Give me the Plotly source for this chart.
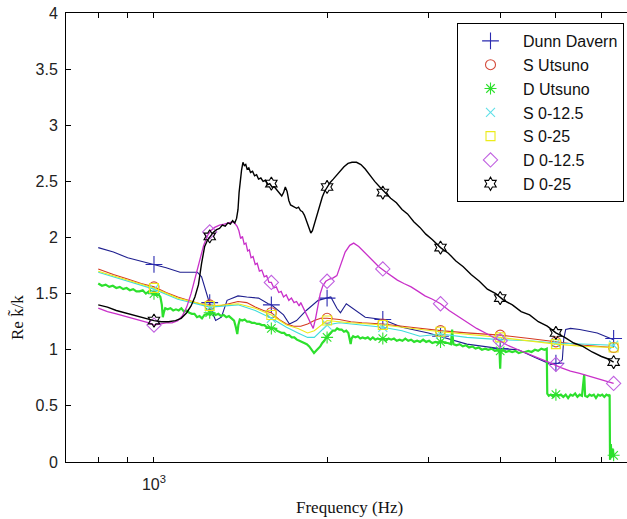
import plotly.graph_objects as go

# ---------------- data ----------------
band_freq = [1000, 1250, 1600, 2000, 2500, 3150, 4000, 5000, 6300]

dd_freq = [800, 850, 900, 950, 1000, 1050, 1110, 1150, 1190, 1210, 1235, 1260, 1280, 1310, 1340,
           1400, 1450, 1520, 1580, 1600, 1680, 1720, 1770, 1840, 1930, 2000, 2030, 2080, 2110,
           2160, 2240, 2330, 2500, 2560, 2700, 3000, 3150, 3500, 4000, 4300, 4600, 4900, 5050,
           5130, 5160, 5200, 5300, 5500, 5900, 6300]
dd_val = [1.91, 1.87, 1.82, 1.79, 1.76, 1.73, 1.69, 1.69, 1.69, 1.65, 1.50, 1.35, 1.26, 1.29, 1.44,
          1.48, 1.47, 1.46, 1.41, 1.40, 1.31, 1.23, 1.26, 1.35, 1.44, 1.46, 1.47, 1.37, 1.33,
          1.41, 1.35, 1.29, 1.27, 1.25, 1.20, 1.15, 1.12, 1.05, 1.01, 1.00, 0.93, 0.87, 0.88,
          0.91, 1.10, 1.18, 1.19, 1.18, 1.15, 1.09]
dd_mark = [1.76, 1.42, 1.40, 1.46, 1.27, 1.12, 1.01, 0.88, 1.10]

su_freq = [800, 850, 900, 950, 1000, 1050, 1100, 1150, 1200, 1250, 1300, 1350, 1400, 1450, 1500,
           1550, 1600, 1650, 1700, 1750, 1800, 1850, 1900, 1950, 2000, 2100, 2200, 2300, 2500,
           2800, 3150, 3500, 4000, 4500, 5000, 5600, 6300]
su_val = [1.72, 1.67, 1.63, 1.59, 1.56, 1.51, 1.47, 1.44, 1.41, 1.40, 1.39, 1.41, 1.43, 1.42, 1.38,
          1.35, 1.33, 1.27, 1.23, 1.21, 1.21, 1.23, 1.26, 1.28, 1.28, 1.27, 1.25, 1.24, 1.23,
          1.20, 1.17, 1.15, 1.13, 1.10, 1.07, 1.04, 1.02]
su_mark = [1.56, 1.40, 1.33, 1.28, 1.23, 1.17, 1.13, 1.07, 1.02]

du_freq = (
    [800, 812, 824, 836, 848, 860, 872, 884, 896, 908, 920, 932, 944, 956, 968, 980, 992, 1004, 1016]
    + [1026, 1032, 1036, 1040, 1046]
    + [1056, 1068, 1080, 1092, 1104, 1116, 1128, 1140, 1152, 1164, 1176, 1188, 1200, 1212, 1224]
    + [1238, 1252, 1266, 1280, 1294, 1308, 1322, 1336, 1350, 1364, 1378]
    + [1388, 1396, 1402, 1410]
    + [1424, 1438, 1452, 1466, 1480, 1495, 1510, 1525, 1540, 1556, 1572, 1588, 1604, 1620, 1636,
       1652, 1668, 1684, 1700]
    + [1718, 1736, 1754, 1772, 1790, 1808, 1826, 1844, 1862, 1880, 1898]
    + [1914, 1930, 1946, 1962, 1978, 1994, 2010, 2028, 2046, 2064, 2082, 2100, 2120, 2140, 2160, 2178]
    + [2190, 2198, 2206, 2220]
    + [2240, 2262, 2284, 2306, 2330, 2354, 2378, 2402, 2426, 2450, 2476, 2502, 2530, 2558, 2586,
       2614, 2644, 2674, 2704, 2736, 2768, 2800, 2834, 2868, 2902, 2938, 2974, 3010, 3048, 3086,
       3124, 3164, 3204, 3244, 3284]
    + [3300, 3316]
    + [3358, 3400, 3444, 3488, 3532, 3578, 3624, 3670, 3718, 3766, 3814, 3864, 3914, 3964, 3990]
    + [4000]
    + [4010, 4040, 4092, 4144, 4198, 4252, 4308, 4364, 4420, 4478, 4536, 4596, 4656, 4716, 4776, 4820]
    + [4830, 4860, 4900, 4950, 5000, 5050, 5100, 5150, 5200, 5250, 5300, 5350, 5400, 5450, 5500,
       5550, 5600, 5620, 5670, 5720, 5770, 5820, 5870, 5920, 5970, 6020, 6070, 6120, 6170, 6200]
    + [6210, 6230, 6250, 6270, 6300]
)
du_val = (
    [1.59, 1.57, 1.58, 1.56, 1.57, 1.55, 1.56, 1.54, 1.55, 1.53, 1.54, 1.52, 1.52, 1.53, 1.50, 1.52,
     1.50, 1.49, 1.50]
    + [1.47, 1.40, 1.29, 1.33, 1.37]
    + [1.36, 1.37, 1.35, 1.36, 1.35, 1.37, 1.34, 1.35, 1.33, 1.32, 1.32, 1.29, 1.30, 1.28, 1.31]
    + [1.32, 1.31, 1.33, 1.31, 1.32, 1.30, 1.31, 1.29, 1.30, 1.28, 1.26]
    + [1.20, 1.14, 1.22, 1.27]
    + [1.26, 1.27, 1.25, 1.25, 1.24, 1.24, 1.23, 1.23, 1.22, 1.22, 1.20, 1.20, 1.19, 1.19, 1.17,
       1.16, 1.15, 1.15, 1.13]
    + [1.13, 1.11, 1.11, 1.09, 1.08, 1.07, 1.06, 1.05, 1.03, 1.00, 0.97]
    + [0.99, 1.01, 1.03, 1.06, 1.08, 1.11, 1.13, 1.15, 1.17, 1.17, 1.19, 1.18, 1.18, 1.16, 1.17, 1.15]
    + [1.10, 1.05, 1.10, 1.12]
    + [1.11, 1.12, 1.10, 1.11, 1.10, 1.11, 1.09, 1.11, 1.09, 1.10, 1.09, 1.10, 1.08, 1.10, 1.09,
       1.10, 1.08, 1.09, 1.08, 1.10, 1.08, 1.09, 1.07, 1.08, 1.07, 1.09, 1.07, 1.08, 1.06, 1.07,
       1.06, 1.08, 1.06, 1.06, 1.05]
    + [1.18, 1.05]
    + [1.04, 1.05, 1.03, 1.04, 1.02, 1.03, 1.01, 1.02, 1.00, 1.01, 1.00, 1.01, 0.99, 1.00, 0.98]
    + [0.83]
    + [0.98, 1.00, 0.98, 0.99, 0.98, 0.99, 0.97, 0.98, 0.98, 0.99, 0.98, 1.00, 0.99, 1.01, 1.00, 1.01]
    + [0.61, 0.59, 0.60, 0.58, 0.61, 0.59, 0.60, 0.58, 0.60, 0.57, 0.60, 0.59, 0.61, 0.58, 0.60,
       0.59, 0.78, 0.59, 0.58, 0.60, 0.59, 0.60, 0.57, 0.60, 0.59, 0.60, 0.58, 0.60, 0.59, 0.60]
    + [0.02, 0.16, 0.04, 0.12, 0.06]
)
du_mark = [1.50, 1.33, 1.19, 1.11, 1.10, 1.07, 0.99, 0.60, 0.06]

s125_freq = [800, 900, 1000, 1100, 1250, 1400, 1500, 1600, 1700, 1780, 1850, 1900, 1950, 2000,
             2100, 2300, 2500, 2700, 2900, 3150, 3500, 4000, 4500, 5000, 5600, 6300]
s125_val = [1.69, 1.61, 1.54, 1.45, 1.38, 1.40, 1.35, 1.28, 1.20, 1.15, 1.11, 1.11, 1.17, 1.22,
            1.24, 1.22, 1.20, 1.17, 1.12, 1.14, 1.11, 1.09, 1.08, 1.06, 1.05, 1.04]
s125_mark = [1.54, 1.38, 1.28, 1.22, 1.20, 1.14, 1.09, 1.06, 1.04]

s25_freq = [800, 900, 1000, 1100, 1250, 1400, 1500, 1600, 1700, 1780, 1850, 1900, 1950, 2000,
            2100, 2200, 2500, 3150, 4000, 5000, 5600, 6300]
s25_val = [1.70, 1.62, 1.55, 1.46, 1.39, 1.41, 1.37, 1.31, 1.22, 1.19, 1.15, 1.17, 1.22, 1.26,
           1.25, 1.24, 1.22, 1.16, 1.11, 1.05, 1.03, 1.02]
s25_mark = [1.55, 1.39, 1.31, 1.26, 1.22, 1.16, 1.11, 1.05, 1.02]

d125_freq = [800, 830, 860, 890, 920, 950, 980, 1000, 1025, 1050, 1075, 1100, 1120, 1140, 1160,
             1180, 1200, 1220, 1240, 1255, 1275, 1300, 1325, 1350, 1370, 1385, 1395, 1405, 1415,
             1425, 1435, 1445, 1455, 1465, 1475, 1487, 1500, 1512, 1525, 1540, 1555, 1570, 1585,
             1600, 1616, 1632, 1648, 1664, 1680, 1698, 1716, 1734, 1752, 1770, 1788, 1800, 1815,
             1830, 1850, 1870, 1892, 1910, 1928, 1946, 1966, 1990, 2020, 2050, 2080, 2110, 2150,
             2190, 2225, 2270, 2310, 2360, 2410, 2460, 2520, 2580, 2650, 2720, 2800, 2880, 2960,
             3050, 3150, 3260, 3380, 3500, 3640, 3800, 3960, 4120, 4300, 4500, 4700, 4900, 5100,
             5300, 5500, 5750, 6000, 6300]
d125_val = [1.37, 1.34, 1.32, 1.30, 1.28, 1.26, 1.24, 1.22, 1.23, 1.24, 1.24, 1.26, 1.30, 1.38, 1.50,
            1.65, 1.80, 1.93, 2.02, 2.06, 2.09, 2.11, 2.12, 2.13, 2.14, 2.12, 2.10, 2.06, 1.99,
            2.01, 1.94, 1.95, 1.88, 1.89, 1.82, 1.83, 1.76, 1.77, 1.70, 1.71, 1.65, 1.66, 1.60,
            1.60, 1.55, 1.56, 1.51, 1.52, 1.47, 1.49, 1.44, 1.46, 1.42, 1.43, 1.39, 1.42, 1.38,
            1.34, 1.30, 1.24, 1.19, 1.28, 1.40, 1.50, 1.57, 1.61, 1.63, 1.64, 1.66, 1.76, 1.87,
            1.93, 1.95, 1.92, 1.88, 1.83, 1.78, 1.74, 1.70, 1.66, 1.62, 1.59, 1.56, 1.52, 1.48,
            1.45, 1.41, 1.35, 1.30, 1.25, 1.19, 1.14, 1.09, 1.04, 1.00, 0.96, 0.92, 0.88, 0.84,
            0.81, 0.79, 0.76, 0.73, 0.70]
d125_mark = [1.22, 2.05, 1.60, 1.61, 1.72, 1.41, 1.08, 0.87, 0.70]

d25_freq = [800, 830, 860, 890, 920, 950, 980, 1000, 1030, 1060, 1090, 1115, 1140, 1160, 1178,
            1195, 1210, 1225, 1240, 1255, 1270, 1285, 1300, 1315, 1330, 1345, 1358, 1370, 1382,
            1392, 1400, 1406, 1412, 1420, 1428, 1436, 1444, 1452, 1462, 1472, 1484, 1496, 1508,
            1520, 1534, 1548, 1562, 1576, 1590, 1604, 1620, 1636, 1652, 1668, 1680, 1692, 1704,
            1716, 1728, 1742, 1756, 1770, 1784, 1798, 1812, 1826, 1838, 1850, 1862, 1874, 1886,
            1898, 1912, 1928, 1944, 1962, 1980, 2000, 2025, 2050, 2080, 2110, 2140, 2175, 2210,
            2250, 2290, 2330, 2370, 2420, 2470, 2520, 2580, 2640, 2700, 2760, 2830, 2900, 2970,
            3050, 3150, 3250, 3350, 3450, 3560, 3680, 3800, 3930, 4060, 4200, 4350, 4500, 4660,
            4830, 5000, 5180, 5370, 5570, 5780, 6000, 6150, 6300]
d25_val = [1.40, 1.38, 1.35, 1.33, 1.31, 1.29, 1.27, 1.26, 1.25, 1.25, 1.26, 1.28, 1.33, 1.39, 1.47,
           1.58, 1.77, 1.92, 1.98, 2.02, 2.05, 2.07, 2.08, 2.11, 2.10, 2.13, 2.12, 2.15, 2.13,
           2.17, 2.25, 2.40, 2.52, 2.60, 2.67, 2.64, 2.65, 2.61, 2.62, 2.58, 2.59, 2.55, 2.56,
           2.52, 2.53, 2.50, 2.51, 2.47, 2.48, 2.45, 2.45, 2.42, 2.40, 2.37, 2.40, 2.45, 2.41,
           2.33, 2.29, 2.28, 2.27, 2.26, 2.27, 2.24, 2.23, 2.20, 2.16, 2.12, 2.08, 2.04, 2.06,
           2.11, 2.17, 2.24, 2.30, 2.36, 2.41, 2.45, 2.49, 2.52, 2.56, 2.60, 2.63, 2.66, 2.67,
           2.67, 2.65, 2.61, 2.56, 2.50, 2.45, 2.40, 2.35, 2.31, 2.25, 2.21, 2.14, 2.09, 2.03,
           1.98, 1.91, 1.86, 1.79, 1.74, 1.67, 1.61, 1.54, 1.50, 1.44, 1.40, 1.34, 1.31, 1.25,
           1.21, 1.15, 1.11, 1.06, 1.03, 0.98, 0.94, 0.92, 0.89]
d25_mark = [1.26, 2.01, 2.48, 2.45, 2.40, 1.91, 1.46, 1.15, 0.89]

y_ticks = [0, 0.5, 1, 1.5, 2, 2.5, 3, 3.5, 4]
y_tick_text = ["0", "0.5", "1", "1.5", "2", "2.5", "3", "3.5", "4"]
x_ticks = [800, 900, 1000, 2000, 3000, 4000, 5000, 6000]
x_tick_text = ["", "", "10<sup>3</sup>", "", "", "", "", ""]

# name, x, y, marker values, line colour, marker colour, symbol, marker size, line width
series = [
    ("Dunn Davern", dd_freq, dd_val, dd_mark, "#1f1f8f", "#2a2ab0", "cross-thin-open", 12, 1.1),
    ("S Utsuno", su_freq, su_val, su_mark, "#d43a22", "#d44a3a", "circle-open", 10, 1.1),
    ("D Utsuno", du_freq, du_val, du_mark, "#2de02d", "#2de02d", "asterisk-open", 10, 2.2),
    ("S 0-12.5", s125_freq, s125_val, s125_mark, "#3fdcdc", "#5fe0e8", "x-thin-open", 9, 1.1),
    ("S 0-25", s25_freq, s25_val, s25_mark, "#ecec1a", "#ecec1a", "square-open", 9, 1.1),
    ("D 0-12.5", d125_freq, d125_val, d125_mark, "#c930c9", "#c060e0", "diamond-open", 11, 1.3),
    ("D 0-25", d25_freq, d25_val, d25_mark, "#000000", "#000000", "hexagram-open", 10, 1.4),
]

# ---------------- figure ----------------
W, H = 627, 519
ML, MR, MT, MB = 66, 0, 13, 57
PW, PH = W - ML - MR, H - MT - MB

fig = go.Figure()
for name, fx, fy, mk, lc, mc, sym, size, lw in series:
    fig.add_trace(go.Scatter(x=fx, y=fy, mode="lines", line=dict(color=lc, width=lw),
                             showlegend=False, legendgroup=name, hoverinfo="skip"))
    fig.add_trace(go.Scatter(x=band_freq, y=mk, mode="markers", name=name, legendgroup=name,
                             marker=dict(symbol=sym, size=size, color=mc,
                                         line=dict(color=mc, width=1.1))))


def px_x(p):
    return (p - ML) / PW


def px_y(p):
    return (H - MB - p) / PH


sans = "Liberation Sans, Arial, sans-serif"
serif = "Liberation Serif, Times New Roman, serif"

fig.update_layout(
    width=W, height=H,
    margin=dict(l=ML, r=MR, t=MT, b=MB, pad=0),
    paper_bgcolor="white", plot_bgcolor="white",
    font=dict(family=sans, size=16, color="#222222"),
    xaxis=dict(type="log", range=[2.8470, 3.8226], showgrid=False, zeroline=False,
               showline=True, linecolor="black", linewidth=1, mirror="ticks",
               ticks="inside", ticklen=5, tickcolor="black",
               tickmode="array", tickvals=x_ticks, ticktext=x_tick_text,
               tickfont=dict(family=sans, size=16, color="#222222"),
               ticklabelstandoff=8),
    yaxis=dict(range=[0, 4], showgrid=False, zeroline=False,
               showline=True, linecolor="black", linewidth=1, mirror=False,
               ticks="inside", ticklen=5, tickcolor="black",
               tickmode="array", tickvals=y_ticks, ticktext=y_tick_text,
               tickfont=dict(family=sans, size=16, color="#222222"),
               ticklabelstandoff=4),
    legend=dict(x=px_x(457), y=px_y(23), xanchor="left", yanchor="top",
                bgcolor="white", bordercolor="black", borderwidth=1,
                font=dict(family=sans, size=16, color="#111111"),
                itemwidth=55, tracegroupgap=0),
    annotations=[
        dict(text="Frequency (Hz)", x=px_x(349), y=px_y(507), xref="paper", yref="paper",
             showarrow=False, font=dict(family=serif, size=17, color="#111111"),
             xanchor="center", yanchor="middle"),
        dict(text="Re k\u0303/k", x=px_x(18), y=px_y(318), xref="paper", yref="paper",
             showarrow=False, textangle=-90, font=dict(family=serif, size=17, color="#111111"),
             xanchor="center", yanchor="middle"),
    ],
)

fig.write_html("out.html")
